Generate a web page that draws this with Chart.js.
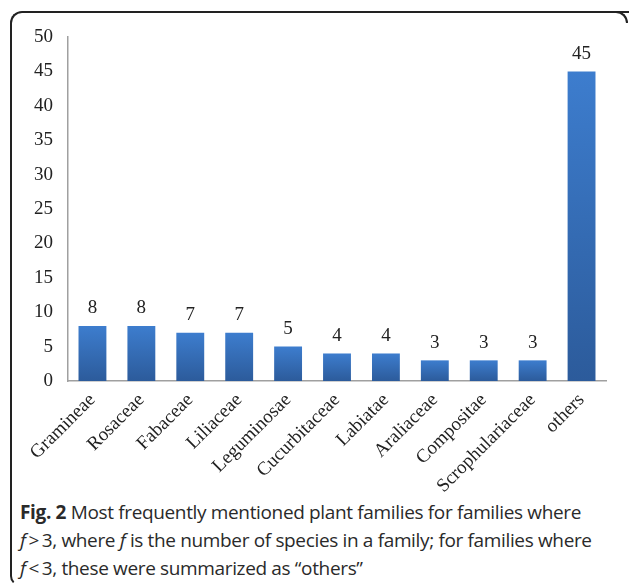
<!DOCTYPE html>
<html>
<head>
<meta charset="utf-8">
<script src="https://cdn.jsdelivr.net/npm/chart.js@4"></script>
<style>
  body { margin: 0; background: #fff; width: 629px; height: 586px; overflow: hidden; position: relative; }
  #frame {
    position: absolute; left: 10px; top: 11px; width: 640px; height: 571px;
    border-left: 2px solid #222; border-top: 2px solid #222;
    border-top-left-radius: 12px; border-bottom-left-radius: 10px;
    border-bottom: 2px solid transparent;
  }
  #corner {
    position: absolute; left: 612px; top: 11px; width: 14px; height: 10px;
    border-top: 2px solid #222; border-right: 2px solid #222;
    border-top-right-radius: 12px;
  }
  #chart-box { position: absolute; left: 0; top: 0; width: 629px; height: 492px; }
  #caption {
    position: absolute; left: 20px; top: 498px; width: 605px;
    font-family: "Open Sans", sans-serif; font-size: 19px; line-height: 28px;
    color: #2a2a2a; letter-spacing: -0.35px; white-space: nowrap;
  }
  #caption b { font-weight: 700; }
</style>
</head>
<body>
<div id="frame"></div>
<div id="corner"></div>
<div id="chart-box"><canvas id="chart"></canvas></div>
<div id="caption"><b>Fig. 2</b> Most frequently mentioned plant families for families where<br><i>f</i>&thinsp;&gt;&thinsp;3, where <i>f</i> is the number of species in a family; for families where<br><i>f</i>&thinsp;&lt;&thinsp;3, these were summarized as “others”</div>
<script>
const families = ['Gramineae', 'Rosaceae', 'Fabaceae', 'Liliaceae', 'Leguminosae', 'Cucurbitaceae',
    'Labiatae', 'Araliaceae', 'Compositae', 'Scrophulariaceae', 'others'];
const speciesCounts = [8, 8, 7, 7, 5, 4, 4, 3, 3, 3, 45];
const yTicks = [0, 5, 10, 15, 20, 25, 30, 35, 40, 45, 50];

const serif = '"Liberation Serif", "Times New Roman", serif';

// value labels above each bar
const barLabels = {
    id: 'barLabels',
    afterDatasetsDraw(chart) {
        const ctx = chart.ctx;
        const meta = chart.getDatasetMeta(0);
        ctx.save();
        ctx.font = '19px ' + serif;
        ctx.fillStyle = '#222';
        ctx.textAlign = 'center';
        ctx.textBaseline = 'bottom';
        meta.data.forEach((bar, i) => {
            ctx.fillText(speciesCounts[i], bar.x, bar.y - 8);
        });
        ctx.restore();
    }
};

function barGradient(context) {
    const chart = context.chart;
    if (!chart.chartArea) return '#3568b0';
    const y = chart.scales.y;
    const v = speciesCounts[context.dataIndex];
    const top = y.getPixelForValue(v);
    const bottom = y.getPixelForValue(0);
    const g = chart.ctx.createLinearGradient(0, top, 0, bottom);
    g.addColorStop(0, '#3d7dce');
    g.addColorStop(1, '#2c5b9b');
    return g;
}

new Chart(document.getElementById('chart'), {
    type: 'bar',
    data: {
        labels: families,
        datasets: [{
            data: speciesCounts,
            backgroundColor: barGradient,
            barPercentage: 0.57,
            categoryPercentage: 1
        }]
    },
    options: {
        responsive: true,
        maintainAspectRatio: false,
        animation: false,
        layout: { padding: { left: 0, right: 23, top: 37, bottom: 0 } },
        plugins: { legend: { display: false }, tooltip: { enabled: false } },
        scales: {
            x: {
                grid: { display: false, drawTicks: false },
                border: { color: '#a0a0a0', width: 1.5 },
                ticks: {
                    color: '#222',
                    font: { family: serif, size: 19 },
                    minRotation: 45, maxRotation: 45,
                    autoSkip: false,
                    padding: 8
                },
                afterFit(scale) {
                    scale.height = 111;
                    scale.paddingLeft = 0;
                    scale.paddingRight = 0;
                }
            },
            y: {
                min: 0, max: 50,
                grid: { display: false, drawTicks: false },
                border: { color: '#a0a0a0', width: 1.5 },
                afterBuildTicks(scale) {
                    scale.ticks = yTicks.map(v => ({ value: v }));
                },
                ticks: {
                    color: '#222',
                    font: { family: serif, size: 19 },
                    padding: 15
                },
                afterFit(scale) {
                    scale.width = 68;
                    scale.paddingTop = 0;
                    scale.paddingBottom = 0;
                }
            }
        }
    },
    plugins: [barLabels]
});
</script>
</body>
</html>
